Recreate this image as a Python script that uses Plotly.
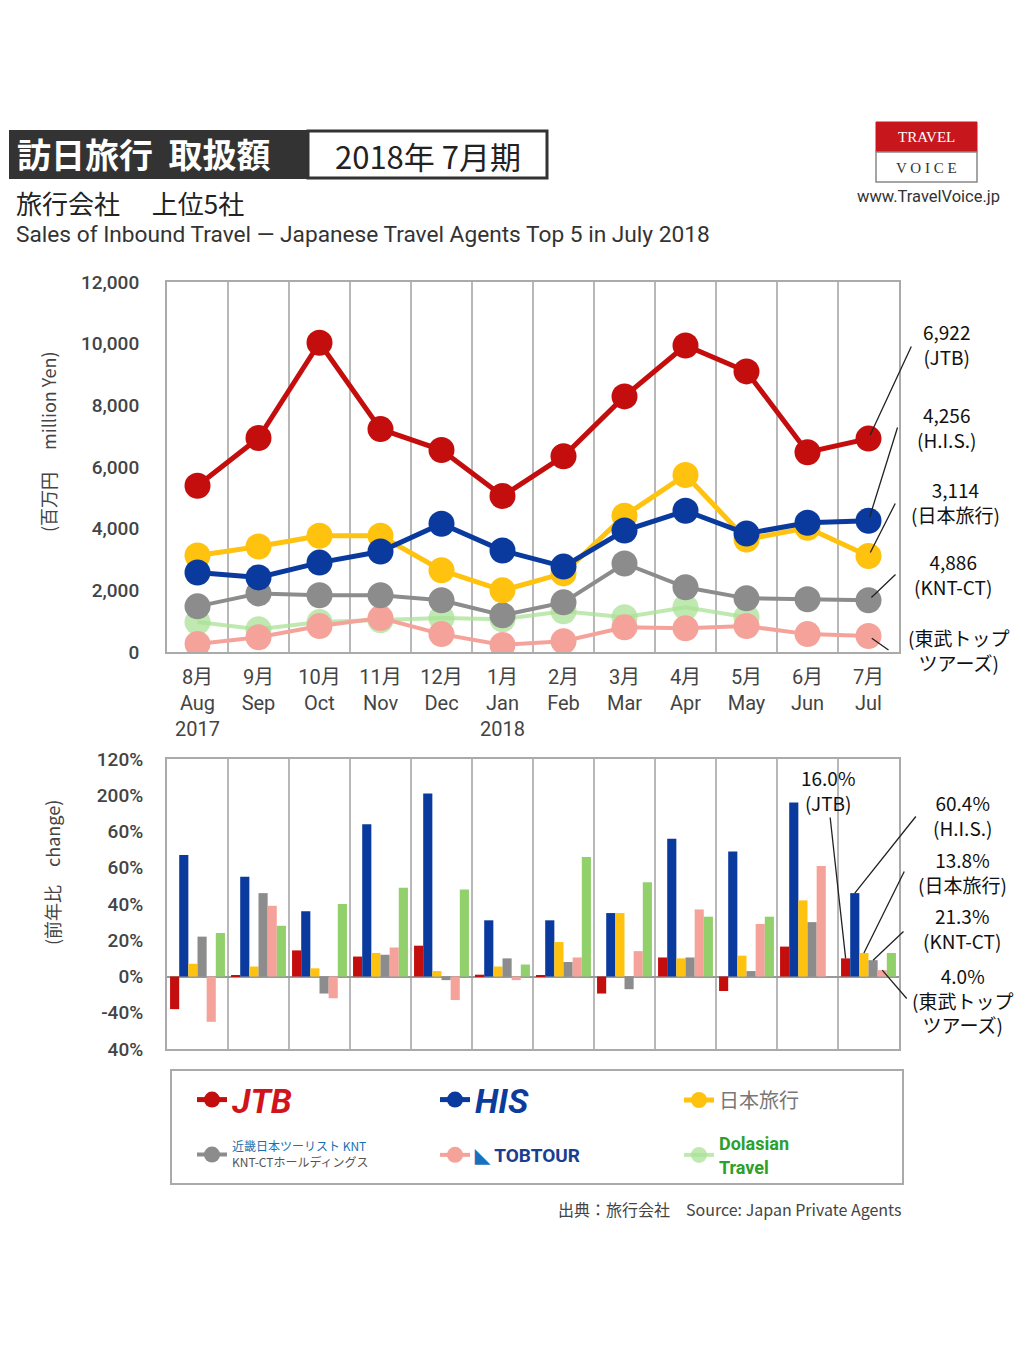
import plotly.graph_objects as go

# ---------------- data ----------------
months_jp = ["8月", "9月", "10月", "11月", "12月", "1月", "2月", "3月", "4月", "5月", "6月", "7月"]
months_en = ["Aug", "Sep", "Oct", "Nov", "Dec", "Jan", "Feb", "Mar", "Apr", "May", "Jun", "Jul"]
years = ["2017", "", "", "", "", "2018", "", "", "", "", "", ""]

# sales (million yen)
sales_jtb = [5390, 6940, 10030, 7230, 6550, 5060, 6350, 8290, 9940, 9100, 6480, 6922]
sales_his = [2580, 2420, 2900, 3260, 4160, 3290, 2770, 3940, 4580, 3840, 4190, 4256]
sales_nta = [3130, 3420, 3770, 3770, 2650, 2000, 2550, 4420, 5740, 3650, 4030, 3114]
sales_knt = [1480, 1900, 1840, 1840, 1680, 1190, 1610, 2870, 2100, 1740, 1710, 1680]
sales_tobu = [260, 480, 840, 1100, 580, 230, 350, 800, 770, 840, 580, 520]
sales_other = [970, 740, 970, 1030, 1100, 1060, 1320, 1130, 1450, 1130, None, None]

# year-on-year change (%)
yoy_jtb = [-18, 0.5, 14.4, 11, 17, 1, 0.5, -9.4, 10.5, -8, 16.5, 10]
yoy_his = [67, 55, 36, 84, 101, 31, 31, 35, 76, 69, 96, 46]
yoy_nta = [7, 5.5, 4.5, 13, 3, 5.5, 19, 35, 10, 11.5, 42, 13]
yoy_knt = [22, 46, -9.4, 12, -2, 10, 8, -7, 10.5, 3, 30, 9]
yoy_tobu = [-25, 39, -12, 16, -13, -2, 10.5, 14, 37, 29, 61, 3.5]
yoy_other = [24, 28, 40, 49, 48, 6.6, 66, 52, 33, 33, 0, 13]

line_labels = ["6,922<br>(JTB)", "4,256<br>(H.I.S.)", "3,114<br>(日本旅行)", "4,886<br>(KNT-CT)", "(東武トップ<br>ツアーズ)"]
bar_labels = ["16.0%<br>(JTB)", "60.4%<br>(H.I.S.)", "13.8%<br>(日本旅行)", "21.3%<br>(KNT-CT)", "4.0%<br>(東武トップ<br>ツアーズ)"]

bar_ticks = [-40, -20, 0, 20, 40, 60, 80, 100, 120]
bar_ticktext = ["40%", "-40%", "0%", "20%", "40%", "60%", "60%", "200%", "120%"]

names = [
    "JTB",
    "HIS",
    "日本旅行",
    '<span style="color:#1a6fb0">近畿日本ツーリスト KNT</span><br>KNT-CTホールディングス',
    '<span style="color:#1a70c0">◣</span> TOBTOUR',
    "Dolasian<br>Travel",
]
line_colors = ["#c40d0d", "#0a3a9e", "#ffc20e", "#8c8c8c", "#f5a39a", "rgba(170,225,150,0.75)"]
bar_colors = ["#c40d0d", "#0a3a9e", "#ffc20e", "#8c8c8c", "#f5a39a", "#92d06c"]

x_idx = list(range(12))
sales = [sales_jtb, sales_his, sales_nta, sales_knt, sales_tobu, sales_other]
yoys = [yoy_jtb, yoy_his, yoy_nta, yoy_knt, yoy_tobu, yoy_other]

W, H = 1024, 1352
OFF = 8  # page body margin
L, R, T, B = 167, 899, 282, 1049  # plot area in screen pixels
TOP_BOTTOM = 652   # bottom of the line chart
BAR_TOP = 759      # top of the bar chart


def px(x):
    return (x - L) / (R - L)


def py(y):
    return (B - y) / (B - T)


fig = go.Figure()

legend_ids = ["legend", "legend2", "legend3", "legend4", "legend5", "legend6"]
order = [5, 4, 3, 2, 1, 0]  # draw lighter series underneath
for i in order:
    fig.add_trace(go.Scatter(
        x=x_idx, y=sales[i], mode="lines+markers", name=names[i],
        line=dict(color=line_colors[i], width=5 if i < 3 else 4),
        marker=dict(size=26, color=line_colors[i]),
        xaxis="x", yaxis="y", legend=legend_ids[i], connectgaps=False,
    ))

for i in range(6):
    fig.add_trace(go.Bar(
        x=x_idx, y=yoys[i], marker=dict(color=bar_colors[i], line=dict(width=0)),
        xaxis="x2", yaxis="y2", showlegend=False,
    ))

ticktext = [f"{a}<br>{b}<br>{c}" for a, b, c in zip(months_jp, months_en, years)]

axis_common = dict(showline=True, mirror=True, linecolor="#aaaaaa", linewidth=2, zeroline=False)
fig.update_layout(
    width=W, height=H,
    margin=dict(l=L - OFF, r=W - (R - OFF), t=T - OFF, b=H - (B - OFF)),
    paper_bgcolor="white", plot_bgcolor="white",
    font=dict(family="Roboto, Noto Sans CJK JP", color="#333"),
    barmode="group", bargap=0.1, bargroupgap=0,
    xaxis=dict(domain=[0, 1], anchor="y", range=[-0.5, 11.5], tickvals=x_idx, ticktext=ticktext,
               showgrid=False, ticks="", ticklabelstandoff=6,
               tickfont=dict(size=20, color="#444", family="Roboto, Noto Sans CJK JP"),
               minor=dict(tick0=0.5, dtick=1, showgrid=True, gridcolor="#b8b8b8", gridwidth=1.5, ticks=""),
               **axis_common),
    yaxis=dict(domain=[py(TOP_BOTTOM), 1], anchor="x", range=[0, 12000], tickvals=list(range(0, 12001, 2000)),
               tickformat=",", showgrid=False, ticks="", ticklabelstandoff=22,
               tickfont=dict(size=19, color="#444", family="Roboto", weight=500), **axis_common),
    xaxis2=dict(domain=[0, 1], anchor="y2", range=[-0.5, 11.5], showticklabels=False, showgrid=False, ticks="",
                minor=dict(tick0=0.5, dtick=1, showgrid=True, gridcolor="#b8b8b8", gridwidth=1.5, ticks=""),
                **axis_common),
    yaxis2=dict(domain=[0, py(BAR_TOP)], anchor="x2", range=[-40, 120], tickvals=bar_ticks, ticktext=bar_ticktext,
                showgrid=False, ticks="", ticklabelstandoff=18, zeroline=True, zerolinecolor="#999999",
                zerolinewidth=1.5,
                tickfont=dict(size=19, color="#444", family="Roboto", weight=500),
                showline=True, mirror=True, linecolor="#aaaaaa", linewidth=2),
)

# one legend per company, arranged in a 3 x 2 grid inside a frame
legend_pos = [(213, 1100), (456, 1100), (700, 1100), (213, 1155), (456, 1155), (700, 1155)]
legend_fonts = [
    dict(size=34, color="#d0141c", family="Roboto", weight="bold", style="italic"),
    dict(size=34, color="#0b3c9c", family="Roboto", weight="bold", style="italic"),
    dict(size=20, color="#777777", family="Noto Sans CJK JP"),
    dict(size=12, color="#555555", family="Noto Sans CJK JP"),
    dict(size=19, color="#1a3d8f", family="Roboto", weight="bold"),
    dict(size=18, color="#2ca02c", family="Roboto", weight="bold"),
]
for k, lid in enumerate(legend_ids):
    fig.update_layout({lid: dict(x=px(legend_pos[k][0] - 21), y=py(legend_pos[k][1]), xanchor="left",
                                 yanchor="middle", bgcolor="rgba(0,0,0,0)", borderwidth=0,
                                 font=legend_fonts[k], valign="middle", itemsizing="trace")})

shapes = [
    dict(type="rect", xref="paper", yref="paper", x0=px(10), x1=px(308), y0=py(178), y1=py(131),
         fillcolor="#333333", line=dict(color="#333333", width=2)),
    dict(type="rect", xref="paper", yref="paper", x0=px(308), x1=px(547), y0=py(178), y1=py(131),
         fillcolor="white", line=dict(color="#333333", width=3)),
    dict(type="rect", xref="paper", yref="paper", x0=px(876), x1=px(977), y0=py(152), y1=py(122),
         fillcolor="#c8161d", line=dict(color="#c8161d", width=1)),
    dict(type="rect", xref="paper", yref="paper", x0=px(876), x1=px(977), y0=py(182), y1=py(152),
         fillcolor="white", line=dict(color="#888888", width=1.5)),
    dict(type="rect", xref="paper", yref="paper", x0=px(171), x1=px(903), y0=py(1184), y1=py(1070),
         fillcolor="rgba(0,0,0,0)", line=dict(color="#aaaaaa", width=2), layer="below"),
]
fig.update_layout(shapes=shapes)

ann = []


def txt(x, y, text, size, color="#222", xanchor="left", family="Noto Sans CJK JP", angle=0, weight="normal"):
    ann.append(dict(xref="paper", yref="paper", x=px(x), y=py(y), text=text, showarrow=False,
                    xanchor=xanchor, yanchor="middle", textangle=angle,
                    font=dict(size=size, color=color, family=family, weight=weight)))


txt(15, 154, "<b>訪日旅行  取扱額</b>", 34, "white")
txt(428, 155, "2018年 7月期", 31, "#222", "center")
txt(926, 137, "TRAVEL", 15, "white", "center", "Liberation Serif")
txt(926, 168, "V O I C E", 15, "#333", "center", "Liberation Serif")
txt(928, 197, "www.TravelVoice.jp", 16.5, "#333", "center", "Roboto")
txt(14, 203, "旅行会社　 上位5社", 26, "#222")
txt(14, 234, "Sales of Inbound Travel — Japanese Travel Agents Top 5 in July 2018", 22.7, "#333", "left", "Roboto")
txt(48, 442, "(百万円　 million Yen)", 18, "#444", "center", "Noto Sans CJK JP", -90)
txt(52, 873, "(前年比　change)", 18, "#444", "center", "Noto Sans CJK JP", -90)
txt(903, 1209, "出典：旅行会社　Source: Japan Private Agents", 16, "#444", "right", "Noto Sans CJK JP")

label_font = dict(size=19, color="#111", family="Noto Sans CJK JP")

# line-chart labels and leader lines (last month values)
line_text_pos = [(946, 344), (946, 427), (955, 502), (953, 574), (958, 650)]
line_hooks = [(912, 345), (898, 426), (896, 502), (897, 573), (890, 651)]
pt_x = L + 11.5 / 12 * (R - L)
for k in range(5):
    pt_y = TOP_BOTTOM - sales[k][11] / 12000 * (TOP_BOTTOM - T)
    ann.append(dict(xref="x", yref="y", x=11, y=sales[k][11], text="", showarrow=True,
                    arrowhead=0, arrowwidth=1.3, arrowcolor="#222",
                    ax=line_hooks[k][0] - pt_x, ay=line_hooks[k][1] - pt_y, standoff=4))
    ann.append(dict(xref="paper", yref="paper", x=px(line_text_pos[k][0]), y=py(line_text_pos[k][1]),
                    text=line_labels[k], showarrow=False, xanchor="center", yanchor="middle", font=label_font))

# bar-chart labels and leader lines (July bars)
bw = 0.9 / 6
bar_text_pos = [(828, 790), (962, 815), (962, 872), (962, 928), (962, 1000)]
bar_hooks = [(830, 816), (917, 815), (905, 870), (905, 930), (908, 1000)]
bar_scale = (B - BAR_TOP) / 160.0
zero_y = B - 40 * bar_scale
for k in range(5):
    xk = 11 - 0.45 + bw * (k + 0.5)
    bx = L + (xk + 0.5) / 12 * (R - L)
    by = zero_y - yoys[k][11] * bar_scale
    ann.append(dict(xref="x2", yref="y2", x=xk, y=yoys[k][11], text="", showarrow=True,
                    arrowhead=0, arrowwidth=1.3, arrowcolor="#222",
                    ax=bar_hooks[k][0] - bx, ay=bar_hooks[k][1] - by))
    ann.append(dict(xref="paper", yref="paper", x=px(bar_text_pos[k][0]), y=py(bar_text_pos[k][1]),
                    text=bar_labels[k], showarrow=False, xanchor="center", yanchor="middle", font=label_font))

fig.update_layout(annotations=ann)
fig.write_html("out.html")
